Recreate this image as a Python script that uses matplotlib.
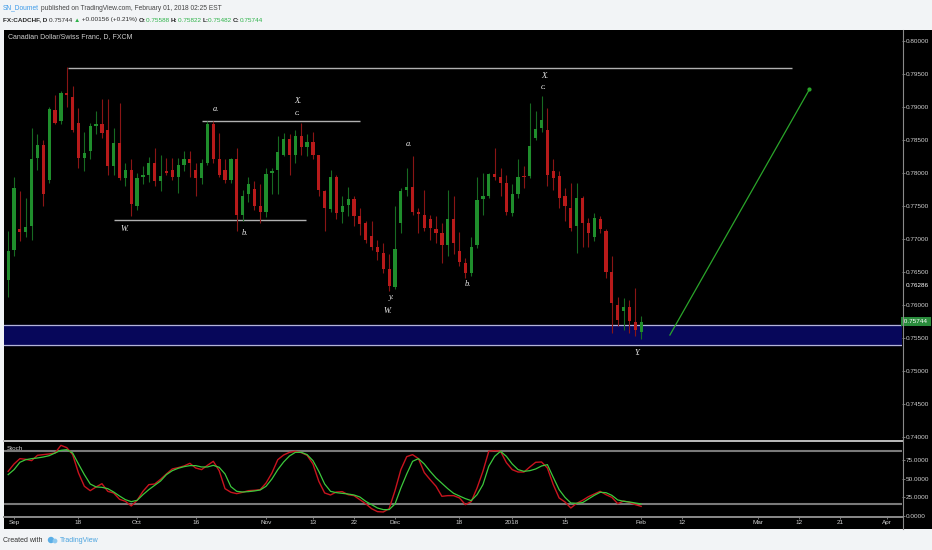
import matplotlib
matplotlib.use('Agg')
import matplotlib.pyplot as plt
import matplotlib.transforms as mtransforms
from matplotlib.patches import Rectangle, Circle
from matplotlib.lines import Line2D

# ---- daily bars (bar number 0 = Sep 1 2017, FXCM CADCHF) ----
bars = list(range(-1, 108))
opens = [0.7638, 0.7683, 0.7715, 0.7710, 0.7719, 0.7822, 0.7842, 0.7789, 0.7895, 0.7878,
         0.7921, 0.7915, 0.7875, 0.7822, 0.7832, 0.7870, 0.7873, 0.7865, 0.7810, 0.7845,
         0.7792, 0.7804, 0.7750, 0.7793, 0.7797, 0.7815, 0.7788, 0.7803, 0.7804, 0.7794,
         0.7812, 0.7820, 0.7804, 0.7792, 0.7815, 0.7874, 0.7820, 0.7804, 0.7789, 0.7820,
         0.7736, 0.7767, 0.7775, 0.7749, 0.7741, 0.7799, 0.7804, 0.7827, 0.7851, 0.7827,
         0.7856, 0.7839, 0.7846, 0.7826, 0.7772, 0.7745, 0.7794, 0.7741, 0.7751, 0.7760,
         0.7735, 0.7723, 0.7704, 0.7688, 0.7678, 0.7654, 0.7627, 0.7723, 0.7773, 0.7778,
         0.7741, 0.7736, 0.7729, 0.7714, 0.7708, 0.7691, 0.7729, 0.7681, 0.7663, 0.7648,
         0.7690, 0.7760, 0.7765, 0.7798, 0.7794, 0.7785, 0.7739, 0.7768, 0.7795, 0.7795,
         0.7852, 0.7868, 0.7865, 0.7802, 0.7795, 0.7765, 0.7747, 0.7719, 0.7762, 0.7724,
         0.7703, 0.7730, 0.7711, 0.7650, 0.7600, 0.7590, 0.7597, 0.7573, 0.75588]
highs = [0.7711, 0.7794, 0.7772, 0.7762, 0.7868, 0.7858, 0.7850, 0.7900, 0.7918, 0.7923,
         0.7960, 0.7931, 0.7898, 0.7862, 0.7875, 0.7893, 0.7911, 0.7911, 0.7868, 0.7906,
         0.7815, 0.7820, 0.7799, 0.7810, 0.7824, 0.7837, 0.7827, 0.7822, 0.7822, 0.7822,
         0.7832, 0.7832, 0.7815, 0.7820, 0.7878, 0.7878, 0.7860, 0.7820, 0.7822, 0.7837,
         0.7774, 0.7794, 0.7787, 0.7782, 0.7807, 0.7807, 0.7855, 0.7860, 0.7858, 0.7865,
         0.7875, 0.7859, 0.7862, 0.7827, 0.7774, 0.7804, 0.7797, 0.7764, 0.7778, 0.7765,
         0.7746, 0.7726, 0.7726, 0.7698, 0.7693, 0.7677, 0.7749, 0.7777, 0.7807, 0.7825,
         0.7746, 0.7774, 0.7736, 0.7734, 0.7723, 0.7774, 0.7765, 0.7710, 0.7671, 0.7703,
         0.7794, 0.7799, 0.7800, 0.7837, 0.7807, 0.7797, 0.7782, 0.7820, 0.7810, 0.7906,
         0.7893, 0.7916, 0.7898, 0.7820, 0.7802, 0.7777, 0.7784, 0.7784, 0.7764, 0.7731,
         0.7739, 0.7734, 0.7714, 0.7673, 0.7612, 0.7610, 0.7607, 0.7625, 0.75822]
lows = [0.7612, 0.7673, 0.7696, 0.7703, 0.7698, 0.7804, 0.7749, 0.7784, 0.7873, 0.7874,
        0.7900, 0.7862, 0.7807, 0.7802, 0.7820, 0.7858, 0.7853, 0.7797, 0.7797, 0.7789,
        0.7779, 0.7734, 0.7744, 0.7782, 0.7786, 0.7780, 0.7772, 0.7797, 0.7789, 0.7769,
        0.7802, 0.7794, 0.7764, 0.7782, 0.7812, 0.7815, 0.7794, 0.7784, 0.7784, 0.7711,
        0.7726, 0.7756, 0.7744, 0.7724, 0.7733, 0.7767, 0.7767, 0.7825, 0.7797, 0.7815,
        0.7827, 0.7825, 0.7820, 0.7764, 0.7711, 0.7741, 0.7729, 0.7724, 0.7734, 0.7719,
        0.7706, 0.7693, 0.7683, 0.7668, 0.7648, 0.7620, 0.7623, 0.7709, 0.7764, 0.7736,
        0.7709, 0.7711, 0.7698, 0.7693, 0.7663, 0.7673, 0.7676, 0.7658, 0.7640, 0.7643,
        0.7686, 0.7736, 0.7762, 0.7789, 0.7764, 0.7736, 0.7735, 0.7762, 0.7777, 0.7792,
        0.7850, 0.7862, 0.7779, 0.7774, 0.7746, 0.7726, 0.7711, 0.7678, 0.7688, 0.7688,
        0.7696, 0.7709, 0.7640, 0.7557, 0.7567, 0.7562, 0.7557, 0.7552, 0.75482]
closes = [0.7681, 0.7777, 0.7710, 0.7717, 0.7821, 0.7842, 0.7767, 0.7896, 0.7875, 0.7921,
          0.7917, 0.7865, 0.7822, 0.7830, 0.7870, 0.7873, 0.7860, 0.7810, 0.7845, 0.7792,
          0.7804, 0.7753, 0.7792, 0.7797, 0.7815, 0.7787, 0.7795, 0.7800, 0.7794, 0.7811,
          0.7820, 0.7815, 0.7792, 0.7815, 0.7874, 0.7820, 0.7797, 0.7789, 0.7820, 0.7736,
          0.7765, 0.7783, 0.7750, 0.7741, 0.7798, 0.7803, 0.7831, 0.7851, 0.7827, 0.7856,
          0.7839, 0.7846, 0.7827, 0.7773, 0.7746, 0.7794, 0.7739, 0.7750, 0.7760, 0.7735,
          0.7722, 0.7698, 0.7688, 0.7679, 0.7654, 0.7629, 0.7684, 0.7772, 0.7778, 0.7741,
          0.7738, 0.7716, 0.7716, 0.7708, 0.7691, 0.7729, 0.7693, 0.7664, 0.7648, 0.7688,
          0.7759, 0.7764, 0.7798, 0.7794, 0.7785, 0.7740, 0.7767, 0.7794, 0.7793, 0.7841,
          0.7866, 0.7879, 0.7797, 0.7792, 0.7762, 0.7749, 0.7716, 0.7762, 0.7724, 0.7709,
          0.7731, 0.7714, 0.7650, 0.7603, 0.7577, 0.7597, 0.7575, 0.7562, 0.75744]

# ---- stochastic (%K red, %D green) ----
stoch_k = [59.7, 69.6, 76.8, 75.9, 74.1, 81.3, 82.2, 83.1, 84.4, 94.7,
           91.6, 82.2, 57.5, 39.6, 33.7, 38.7, 43.1, 32.8, 30.6, 22.1,
           19.4, 13.1, 20.7, 32.8, 41.8, 42.7, 49.0, 56.2, 62.9, 64.7,
           66.9, 70.5, 64.2, 62.0, 67.8, 73.2, 60.6, 36.4, 31.5, 29.7,
           31.5, 33.7, 34.2, 35.1, 44.0, 57.5, 75.4, 81.7, 85.3, 86.7,
           84.9, 81.3, 69.6, 46.3, 30.6, 27.9, 31.9, 32.4, 28.3, 27.0,
           21.6, 16.2, 9.5, 5.5, 5.0, 9.5, 33.7, 62.0, 79.5, 82.2,
           76.8, 58.0, 48.5, 39.6, 26.1, 27.0, 27.0, 23.9, 14.9, 18.9,
           37.3, 59.7, 86.7, 87.6, 86.7, 71.4, 62.0, 58.8, 58.8, 65.6,
           71.9, 72.3, 64.2, 41.8, 23.9, 18.5, 10.4, 16.7, 20.7, 25.6,
           29.2, 32.8, 28.3, 24.7, 16.2, 19.8, 18.0, 14.9, 12.6]
stoch_d = [55.3, 62.0, 71.9, 75.4, 76.8, 77.7, 79.0, 80.8, 84.4, 88.0,
           88.9, 84.4, 69.6, 55.3, 42.7, 38.7, 38.2, 36.4, 31.9, 26.5,
           21.6, 18.9, 20.7, 28.3, 35.1, 40.9, 46.7, 55.3, 60.6, 63.8,
           66.0, 67.4, 67.4, 65.6, 65.6, 67.8, 65.1, 56.2, 39.1, 32.8,
           31.9, 32.4, 33.3, 34.6, 39.6, 49.4, 62.0, 72.3, 80.4, 85.3,
           85.3, 82.2, 74.1, 59.7, 42.7, 32.8, 31.0, 30.1, 29.2, 27.9,
           25.2, 19.4, 14.9, 10.4, 8.2, 8.2, 15.8, 37.3, 56.2, 73.2,
           76.8, 69.6, 59.7, 50.8, 43.6, 36.4, 30.1, 26.5, 23.0, 20.3,
           28.3, 41.8, 66.5, 79.9, 86.7, 79.9, 69.6, 62.0, 59.7, 60.6,
           62.9, 66.9, 68.7, 51.7, 35.1, 24.7, 17.1, 16.7, 17.6, 22.5,
           27.4, 31.5, 31.0, 27.4, 21.2, 19.4, 18.5, 17.1, 15.8]
stoch_bands = [86.5, 16.0]
stoch_ticks = [0, 25, 50, 75]

# ---- axis labels ----
price_ticks = [0.740, 0.745, 0.750, 0.755, 0.760, 0.765, 0.770,
               0.775, 0.780, 0.785, 0.790, 0.795, 0.800]
date_pos = [0, 11, 21, 31, 43, 51, 58, 65, 76, 85, 94, 107, 114, 127, 134, 141, 149]
date_lab = ['Sep', '18', 'Oct', '16', 'Nov', '13', '22', 'Dec', '18', '2018', '15',
            'Feb', '12', 'Mar', '12', '21', 'Apr']

# ---- drawings ----
hlines = [(9.2, 132.8, 0.7959), (17.1, 49.9, 0.7728), (32.0, 59.0, 0.7878)]
zone = (0.75385, 0.75688)
target_line = ([111.9, 135.7], [0.7554, 0.7926])
wave_labels = [('W.', 18.8, 0.7715), ('b.', 39.4, 0.7709), ('a.', 34.5, 0.7897),
               ('X.', 48.5, 0.7908), ('c.', 48.4, 0.7891), ('a.', 67.4, 0.7844),
               ('y.', 64.3, 0.7612), ('W.', 63.7, 0.7590), ('b.', 77.4, 0.7631),
               ('X.', 90.5, 0.7946), ('c.', 90.4, 0.7930), ('Y.', 106.4, 0.7527)]
last_price = 0.75744
line_price = 0.76286

W, H = 932, 550
fig = plt.figure(figsize=(W / 100, H / 100), dpi=100, facecolor='#f2f4f6')
pix = mtransforms.IdentityTransform()


def fx(x):
    return x / W


def fy(y):
    return 1 - y / H


fig.patches.append(Rectangle((fx(4), fy(529)), fx(932) - fx(4), fy(30) - fy(529),
                             transform=fig.transFigure, facecolor='black', zorder=-5))

ax = fig.add_axes([fx(4), fy(440), fx(902) - fx(4), fy(30) - fy(440)], facecolor='black')
ax2 = fig.add_axes([fx(4), fy(516), fx(902) - fx(4), fy(442) - fy(516)], facecolor='black')
for a in (ax, ax2):
    a.set_xlim(-1.71, 151.5)
    for s in a.spines.values():
        s.set_visible(False)
ax.set_ylim(0.7395, 0.8016)
ax2.set_ylim(-0.4, 99.2)

# candles
up = [c >= o for o, c in zip(opens, closes)]
body_col = ['#1f8e2c' if u else '#b81a1a' for u in up]
wick_col = ['#176a22' if u else '#8a1515' for u in up]
ax.vlines(bars, lows, highs, colors=wick_col, lw=0.8, zorder=3)
ax.bar(bars, [max(abs(c - o), 0.00012) for o, c in zip(opens, closes)],
       bottom=[min(o, c) for o, c in zip(opens, closes)], width=0.55,
       color=body_col, linewidth=0, zorder=4)

# drawings
ax.axhspan(zone[0], zone[1], color='#07075a', zorder=1)
ax.axhline(zone[0], color='#b4b4d8', lw=0.9, zorder=2)
ax.axhline(zone[1], color='#b4b4d8', lw=0.9, zorder=2)
for x0, x1, p in hlines:
    ax.hlines(p, x0, x1, color='#b0b0b0', lw=1.0, zorder=2)
ax.plot(target_line[0], target_line[1], color='#2aa52a', lw=0.9, zorder=5)
ax.plot(target_line[0][1], target_line[1][1], 'o', color='#2aa52a', ms=2, zorder=5)
for s, x, p in wave_labels:
    ax.text(x, p, s, color='#ececec', fontsize=6, family='Liberation Serif',
            style='italic', ha='center', va='center', zorder=6)

# price axis
ax.yaxis.tick_right()
ax.set_yticks(price_ticks)
ax.set_yticklabels(['%.5f' % p for p in price_ticks])
ax.tick_params(axis='y', colors='#888888', labelcolor='#d0d0d0', labelsize=4.6,
               length=2, width=0.6, pad=1)
ax.set_xticks([])
for lab in ax.get_yticklabels():
    lab.set_family('Liberation Sans')

ax.text(1.004, line_price, '%.5f' % line_price, transform=ax.get_yaxis_transform(),
        color='#ffffff', fontsize=4.6, family='Liberation Sans', va='center', ha='left',
        bbox=dict(facecolor='black', edgecolor='none', pad=0.6), zorder=7, clip_on=False)
ax.text(1.0005, last_price, ' %.5f ' % last_price, transform=ax.get_yaxis_transform(),
        color='white', fontsize=4.6, family='Liberation Sans', va='center', ha='left',
        bbox=dict(facecolor='#2a8c3c', edgecolor='none', pad=1.2), zorder=7, clip_on=False)

# stochastic pane
ax2.plot(bars, stoch_k, color='#c8141e', lw=1.0, zorder=3)
ax2.plot(bars, stoch_d, color='#3cc83c', lw=0.9, zorder=4)
for b in stoch_bands:
    ax2.axhline(b, color='#7a7a7a', lw=1.5, zorder=2)
ax2.yaxis.tick_right()
ax2.set_yticks(stoch_ticks)
ax2.set_yticklabels(['%.4f' % v for v in stoch_ticks])
ax2.set_xticks(date_pos)
ax2.set_xticklabels(date_lab)
ax2.tick_params(colors='#888888', labelcolor='#d0d0d0', labelsize=4.6,
                length=2, width=0.6, pad=1)
for lab in ax2.get_yticklabels() + ax2.get_xticklabels():
    lab.set_family('Liberation Sans')

# pane frames
fig.lines.append(Line2D([fx(4), fx(902)], [fy(440.7), fy(440.7)], transform=fig.transFigure,
                        color='#bdbdbd', lw=1.4))
fig.lines.append(Line2D([fx(4), fx(902)], [fy(516.7), fy(516.7)], transform=fig.transFigure,
                        color='#8a8a8a', lw=1.4))
fig.lines.append(Line2D([fx(902.5), fx(902.5)], [fy(30), fy(529)], transform=fig.transFigure,
                        color='#8a8a8a', lw=0.8))
fig.text(fx(8), fy(37), 'Canadian Dollar/Swiss Franc, D, FXCM', color='#cfcfcf',
         fontsize=5, family='Liberation Sans', va='center')
fig.text(fx(7), fy(449), 'Stoch', color='#cfcfcf', fontsize=4.6,
         family='Liberation Sans', va='center')


def text_run(x, y, pieces, size):
    r = fig.canvas.get_renderer()
    for s, col, wt in pieces:
        t = fig.text(x, H - y, s, color=col, fontsize=size, fontweight=wt,
                     family=['Liberation Sans', 'DejaVu Sans'], va='baseline', transform=pix)
        x = t.get_window_extent(r).x1


green = '#2eb34a'
dark = '#2a2a2a'
text_run(3, 9.5, [('SN_Doumet', '#3d9be9', 'normal'),
                  (' published on TradingView.com, February 01, 2018 02:25 EST', '#444444', 'normal')], 4.8)
text_run(3, 21.5, [('FX:CADCHF, D ', dark, 'bold'), ('0.75744 ', dark, 'normal'),
                   ('\u25b2', green, 'normal'), (' +0.00156 (+0.21%) ', dark, 'normal'),
                   ('O:', dark, 'bold'), ('0.75588 ', green, 'normal'),
                   ('H:', dark, 'bold'), ('0.75822 ', green, 'normal'),
                   ('L:', dark, 'bold'), ('0.75482 ', green, 'normal'),
                   ('C:', dark, 'bold'), ('0.75744', green, 'normal')], 4.6)

# footer
fig.text(3, H - 540, 'Created with', color='#333333', fontsize=5, family='Liberation Sans',
         va='center', transform=pix)
fig.patches.append(Circle((51, H - 540), 3.2, transform=pix, facecolor='#5aaee6', edgecolor='none'))
fig.patches.append(Circle((55, H - 541), 2.4, transform=pix, facecolor='#8cc8ef', edgecolor='none'))
fig.text(60, H - 540, 'TradingView', color='#4aa3df', fontsize=5, family='Liberation Sans',
         va='center', transform=pix)

fig.savefig('out.png', dpi=100, facecolor=fig.get_facecolor())
